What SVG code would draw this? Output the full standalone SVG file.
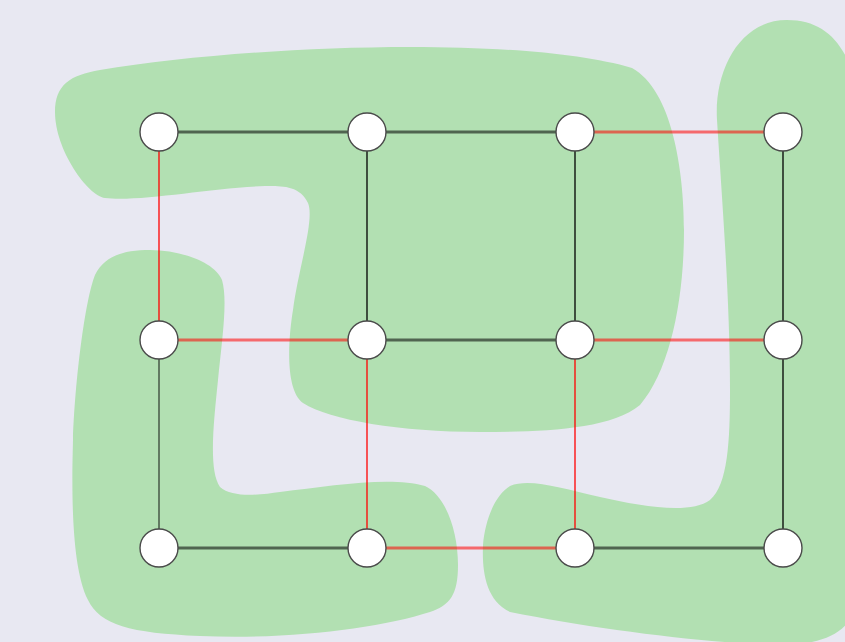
<svg xmlns="http://www.w3.org/2000/svg" width="845" height="642" viewBox="0 0 845 642">
  <style>
    .region { fill: #b2e0b2; stroke: none; }
    .node circle { fill: #ffffff; stroke: #4a4a4a; stroke-width: 1.4; }
    .h { stroke-width: 3; stroke-opacity: 0.55; fill: none; }
    .v { stroke-width: 1.3; fill: none; }
    .dark { stroke: #000000; }
    .red { stroke: #ff0000; }
  </style>
  <rect x="0" y="0" width="845" height="642" fill="#e8e8f2"/>

  <!-- shaded regions -->
  <g id="regions">
    <path id="region-top" class="region" d="M 100,70 C 250,45 520,35 632,68 C 672,90 684,170 684,230 C 684,300 670,370 640,405 C 610,430 540,432 480,432 C 400,432 330,420 303,403 C 285,390 288,340 293,310 C 298,270 315,220 308,203 C 300,185 280,186 265,186 C 210,188 140,202 105,198 C 88,196 55,150 55,112 C 55,85 70,75 100,70 Z"/>
    <path id="region-left" class="region" d="M 150,250 C 180,250 215,262 222,280 C 228,300 222,340 218,380 C 214,420 208,470 220,487 C 232,498 260,495 280,492 C 330,486 390,476 425,486 C 445,495 458,530 458,565 C 458,595 450,605 430,612 C 380,628 290,640 200,636 C 130,633 100,625 88,600 C 70,565 72,480 73,440 C 75,380 85,300 95,275 C 105,255 125,250 150,250 Z"/>
    <path id="region-right" class="region" d="M 787,20 C 830,20 850,50 860,100 L 860,600 C 850,630 830,642 790,645 C 720,645 600,630 510,612 C 485,600 482,570 483,545 C 485,520 495,495 510,486 C 530,478 560,488 600,497 C 640,506 690,515 710,500 C 728,485 730,440 730,390 C 730,300 722,200 717,120 C 714,70 740,20 787,20 Z"/>
  </g>

  <!-- connectors -->
  <g id="edges">
    <line class="h dark" x1="159" y1="132" x2="367" y2="132"/>
    <line class="h dark" x1="367" y1="132" x2="575" y2="132"/>
    <line class="h red" x1="575" y1="132" x2="783" y2="132"/>
    <line class="h red" x1="159" y1="340" x2="367" y2="340"/>
    <line class="h dark" x1="367" y1="340" x2="575" y2="340"/>
    <line class="h red" x1="575" y1="340" x2="783" y2="340"/>
    <line class="h dark" x1="159" y1="548" x2="367" y2="548"/>
    <line class="h red" x1="367" y1="548" x2="575" y2="548"/>
    <line class="h dark" x1="575" y1="548" x2="783" y2="548"/>

    <line class="v red" x1="159" y1="132" x2="159" y2="340"/>
    <line class="v dark" x1="159" y1="340" x2="159" y2="548" stroke-width="1.6" stroke-opacity="0.7"/>
    <line class="v dark" x1="367" y1="132" x2="367" y2="340"/>
    <line class="v red" x1="367" y1="340" x2="367" y2="548"/>
    <line class="v dark" x1="575" y1="132" x2="575" y2="340"/>
    <line class="v red" x1="575" y1="340" x2="575" y2="548"/>
    <line class="v dark" x1="783" y1="132" x2="783" y2="340"/>
    <line class="v dark" x1="783" y1="340" x2="783" y2="548"/>
  </g>

  <!-- nodes -->
  <g id="n00" class="node"><circle cx="159" cy="132" r="19"/></g>
  <g id="n01" class="node"><circle cx="367" cy="132" r="19"/></g>
  <g id="n02" class="node"><circle cx="575" cy="132" r="19"/></g>
  <g id="n03" class="node"><circle cx="783" cy="132" r="19"/></g>
  <g id="n10" class="node"><circle cx="159" cy="340" r="19"/></g>
  <g id="n11" class="node"><circle cx="367" cy="340" r="19"/></g>
  <g id="n12" class="node"><circle cx="575" cy="340" r="19"/></g>
  <g id="n13" class="node"><circle cx="783" cy="340" r="19"/></g>
  <g id="n20" class="node"><circle cx="159" cy="548" r="19"/></g>
  <g id="n21" class="node"><circle cx="367" cy="548" r="19"/></g>
  <g id="n22" class="node"><circle cx="575" cy="548" r="19"/></g>
  <g id="n23" class="node"><circle cx="783" cy="548" r="19"/></g>
</svg>
